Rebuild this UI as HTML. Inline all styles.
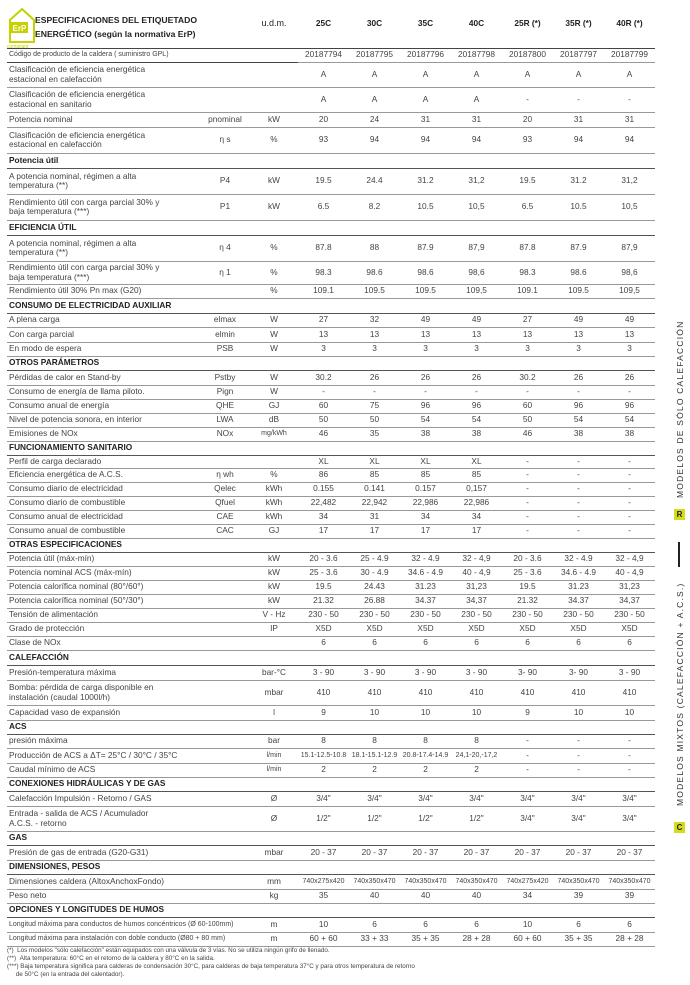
<!DOCTYPE html>
<html><head><meta charset="utf-8"><style>
body{margin:0;width:690px;height:985px;background:#fff;font-family:"Liberation Sans",sans-serif;color:#444;position:relative;overflow:hidden}
table{position:absolute;left:7px;top:0;border-collapse:collapse;table-layout:fixed;width:648px}
td{font-size:8.3px;line-height:9.5px;padding:0 0 0 2px;border-bottom:1.3px solid #999;vertical-align:middle;overflow:hidden;white-space:nowrap}
td.l{white-space:normal;padding-right:30px}
td.c{text-align:center;padding:0}
tr.s td{font-weight:bold;color:#222;border-bottom:1.3px solid #555}
tr.hd td{border-bottom:1.5px solid #444;font-weight:bold;color:#222}
.sm{font-size:7px}
.vt{position:absolute;transform:rotate(-90deg);transform-origin:left top;font-size:8.5px;letter-spacing:1.2px;color:#333;white-space:nowrap}
.box{position:absolute;width:11px;height:11px;background:#d4dc1c;font-size:8px;font-weight:bold;color:#222;text-align:center;line-height:11px}
</style></head><body>
<svg style="position:absolute;left:7px;top:6px" width="30" height="42"><path d="M3 14 L15 3 L27 14 L27 36 L3 36 Z" fill="none" stroke="#c5d200" stroke-width="2"/><rect x="4" y="16" width="17" height="11" fill="#c5d200"/><text x="5.5" y="25" font-size="8" font-family="Liberation Sans" fill="#fff" font-weight="bold">ErP</text><text x="0" y="42" font-size="5" font-family="Liberation Sans" fill="#c5d200">compliant</text></svg>
<table>
<colgroup><col style="width:193px"><col style="width:50px"><col style="width:48px"><col span="7" style="width:51px"></colgroup>
<tr class="hd" style="height:48px"><td colspan="2" style="padding-left:28px;font-size:8.6px;line-height:14px;padding-top:6px;white-space:normal">ESPECIFICACIONES DEL ETIQUETADO<br>ENERGÉTICO (según la normativa ErP)</td><td class="c" style="font-weight:normal;font-size:9px">u.d.m.</td><td class="c">25C</td><td class="c">30C</td><td class="c">35C</td><td class="c">40C</td><td class="c">25R (*)</td><td class="c">35R (*)</td><td class="c">40R (*)</td></tr>
<tr style="height:14px"><td colspan="3" class="sm" style="border-bottom-color:#444">Código de producto de la caldera ( suministro GPL)</td><td class="c">20187794</td><td class="c">20187795</td><td class="c">20187796</td><td class="c">20187798</td><td class="c">20187800</td><td class="c">20187797</td><td class="c">20187799</td></tr>
<tr style="height:25px"><td class="l">Clasificación de eficiencia energética estacional en calefacción</td><td></td><td></td><td class="c">A</td><td class="c">A</td><td class="c">A</td><td class="c">A</td><td class="c">A</td><td class="c">A</td><td class="c">A</td></tr>
<tr style="height:25px"><td class="l">Clasificación de eficiencia energética estacional en sanitario</td><td></td><td></td><td class="c">A</td><td class="c">A</td><td class="c">A</td><td class="c">A</td><td class="c">-</td><td class="c">-</td><td class="c">-</td></tr>
<tr style="height:15px"><td>Potencia nominal</td><td class="c">pnominal</td><td class="c">kW</td><td class="c">20</td><td class="c">24</td><td class="c">31</td><td class="c">31</td><td class="c">20</td><td class="c">31</td><td class="c">31</td></tr>
<tr style="height:26px"><td class="l">Clasificación de eficiencia energética estacional en calefacción</td><td class="c">η s</td><td class="c">%</td><td class="c">93</td><td class="c">94</td><td class="c">94</td><td class="c">94</td><td class="c">93</td><td class="c">94</td><td class="c">94</td></tr>
<tr class="s" style="height:15px"><td colspan="10">Potencia útil</td></tr>
<tr style="height:26px"><td class="l">A potencia nominal, régimen a alta temperatura (**)</td><td class="c">P4</td><td class="c">kW</td><td class="c">19.5</td><td class="c">24.4</td><td class="c">31.2</td><td class="c">31,2</td><td class="c">19.5</td><td class="c">31.2</td><td class="c">31,2</td></tr>
<tr style="height:26px"><td class="l">Rendimiento útil con carga parcial 30% y baja temperatura (***)</td><td class="c">P1</td><td class="c">kW</td><td class="c">6.5</td><td class="c">8.2</td><td class="c">10.5</td><td class="c">10,5</td><td class="c">6.5</td><td class="c">10.5</td><td class="c">10,5</td></tr>
<tr class="s" style="height:15px"><td colspan="10">EFICIENCIA ÚTIL</td></tr>
<tr style="height:26px"><td class="l">A potencia nominal, régimen a alta temperatura (**)</td><td class="c">η 4</td><td class="c">%</td><td class="c">87.8</td><td class="c">88</td><td class="c">87.9</td><td class="c">87,9</td><td class="c">87.8</td><td class="c">87.9</td><td class="c">87,9</td></tr>
<tr style="height:23px"><td class="l">Rendimiento útil con carga parcial 30% y baja temperatura (***)</td><td class="c">η 1</td><td class="c">%</td><td class="c">98.3</td><td class="c">98.6</td><td class="c">98.6</td><td class="c">98,6</td><td class="c">98.3</td><td class="c">98.6</td><td class="c">98,6</td></tr>
<tr style="height:14px"><td colspan="2">Rendimiento útil 30% Pn max (G20)</td><td class="c">%</td><td class="c">109.1</td><td class="c">109.5</td><td class="c">109.5</td><td class="c">109,5</td><td class="c">109.1</td><td class="c">109.5</td><td class="c">109,5</td></tr>
<tr class="s" style="height:15px"><td colspan="10">CONSUMO DE ELECTRICIDAD AUXILIAR</td></tr>
<tr style="height:14px"><td>A plena carga</td><td class="c">elmax</td><td class="c">W</td><td class="c">27</td><td class="c">32</td><td class="c">49</td><td class="c">49</td><td class="c">27</td><td class="c">49</td><td class="c">49</td></tr>
<tr style="height:15px"><td>Con carga parcial</td><td class="c">elmin</td><td class="c">W</td><td class="c">13</td><td class="c">13</td><td class="c">13</td><td class="c">13</td><td class="c">13</td><td class="c">13</td><td class="c">13</td></tr>
<tr style="height:14px"><td>En modo de espera</td><td class="c">PSB</td><td class="c">W</td><td class="c">3</td><td class="c">3</td><td class="c">3</td><td class="c">3</td><td class="c">3</td><td class="c">3</td><td class="c">3</td></tr>
<tr class="s" style="height:14px"><td colspan="10">OTROS PARÁMETROS</td></tr>
<tr style="height:15px"><td>Pérdidas de calor en Stand-by</td><td class="c">Pstby</td><td class="c">W</td><td class="c">30.2</td><td class="c">26</td><td class="c">26</td><td class="c">26</td><td class="c">30.2</td><td class="c">26</td><td class="c">26</td></tr>
<tr style="height:14px"><td>Consumo de energía de llama piloto.</td><td class="c">Pign</td><td class="c">W</td><td class="c">-</td><td class="c">-</td><td class="c">-</td><td class="c">-</td><td class="c">-</td><td class="c">-</td><td class="c">-</td></tr>
<tr style="height:14px"><td>Consumo anual de energía</td><td class="c">QHE</td><td class="c">GJ</td><td class="c">60</td><td class="c">75</td><td class="c">96</td><td class="c">96</td><td class="c">60</td><td class="c">96</td><td class="c">96</td></tr>
<tr style="height:14px"><td>Nivel de potencia sonora, en interior</td><td class="c">LWA</td><td class="c">dB</td><td class="c">50</td><td class="c">50</td><td class="c">54</td><td class="c">54</td><td class="c">50</td><td class="c">54</td><td class="c">54</td></tr>
<tr style="height:14px"><td>Emisiones de NOx</td><td class="c">NOx</td><td class="c sm">mg/kWh</td><td class="c">46</td><td class="c">35</td><td class="c">38</td><td class="c">38</td><td class="c">46</td><td class="c">38</td><td class="c">38</td></tr>
<tr class="s" style="height:14px"><td colspan="10">FUNCIONAMIENTO SANITARIO</td></tr>
<tr style="height:13px"><td>Perfil de carga declarado</td><td></td><td></td><td class="c">XL</td><td class="c">XL</td><td class="c">XL</td><td class="c">XL</td><td class="c">-</td><td class="c">-</td><td class="c">-</td></tr>
<tr style="height:14px"><td>Eficiencia energética de A.C.S.</td><td class="c">η wh</td><td class="c">%</td><td class="c">86</td><td class="c">85</td><td class="c">85</td><td class="c">85</td><td class="c">-</td><td class="c">-</td><td class="c">-</td></tr>
<tr style="height:14px"><td>Consumo diario de electricidad</td><td class="c">Qelec</td><td class="c">kWh</td><td class="c">0.155</td><td class="c">0.141</td><td class="c">0.157</td><td class="c">0,157</td><td class="c">-</td><td class="c">-</td><td class="c">-</td></tr>
<tr style="height:14px"><td>Consumo diario de combustible</td><td class="c">Qfuel</td><td class="c">kWh</td><td class="c">22,482</td><td class="c">22,942</td><td class="c">22,986</td><td class="c">22,986</td><td class="c">-</td><td class="c">-</td><td class="c">-</td></tr>
<tr style="height:14px"><td>Consumo anual de electricidad</td><td class="c">CAE</td><td class="c">kWh</td><td class="c">34</td><td class="c">31</td><td class="c">34</td><td class="c">34</td><td class="c">-</td><td class="c">-</td><td class="c">-</td></tr>
<tr style="height:14px"><td>Consumo anual de combustible</td><td class="c">CAC</td><td class="c">GJ</td><td class="c">17</td><td class="c">17</td><td class="c">17</td><td class="c">17</td><td class="c">-</td><td class="c">-</td><td class="c">-</td></tr>
<tr class="s" style="height:14px"><td colspan="10">OTRAS ESPECIFICACIONES</td></tr>
<tr style="height:14px"><td colspan="2">Potencia útil (máx-mín)</td><td class="c">kW</td><td class="c">20 - 3.6</td><td class="c">25 - 4.9</td><td class="c">32 - 4.9</td><td class="c">32 - 4,9</td><td class="c">20 - 3.6</td><td class="c">32 - 4.9</td><td class="c">32 - 4,9</td></tr>
<tr style="height:14px"><td colspan="2">Potencia nominal ACS (máx-mín)</td><td class="c">kW</td><td class="c">25 - 3.6</td><td class="c">30 - 4.9</td><td class="c">34.6 - 4.9</td><td class="c">40 - 4,9</td><td class="c">25 - 3.6</td><td class="c">34.6 - 4.9</td><td class="c">40 - 4,9</td></tr>
<tr style="height:14px"><td colspan="2">Potencia calorífica nominal (80°/60°)</td><td class="c">kW</td><td class="c">19.5</td><td class="c">24.43</td><td class="c">31.23</td><td class="c">31,23</td><td class="c">19.5</td><td class="c">31.23</td><td class="c">31,23</td></tr>
<tr style="height:14px"><td colspan="2">Potencia calorífica nominal (50°/30°)</td><td class="c">kW</td><td class="c">21.32</td><td class="c">26.88</td><td class="c">34.37</td><td class="c">34,37</td><td class="c">21.32</td><td class="c">34.37</td><td class="c">34,37</td></tr>
<tr style="height:14px"><td colspan="2">Tensión de alimentación</td><td class="c">V - Hz</td><td class="c">230 - 50</td><td class="c">230 - 50</td><td class="c">230 - 50</td><td class="c">230 - 50</td><td class="c">230 - 50</td><td class="c">230 - 50</td><td class="c">230 - 50</td></tr>
<tr style="height:14px"><td colspan="2">Grado de protección</td><td class="c">IP</td><td class="c">X5D</td><td class="c">X5D</td><td class="c">X5D</td><td class="c">X5D</td><td class="c">X5D</td><td class="c">X5D</td><td class="c">X5D</td></tr>
<tr style="height:14px"><td colspan="2">Clase de NOx</td><td></td><td class="c">6</td><td class="c">6</td><td class="c">6</td><td class="c">6</td><td class="c">6</td><td class="c">6</td><td class="c">6</td></tr>
<tr class="s" style="height:15px"><td colspan="10">CALEFACCIÓN</td></tr>
<tr style="height:15px"><td colspan="2">Presión-temperatura máxima</td><td class="c">bar-°C</td><td class="c">3 - 90</td><td class="c">3 - 90</td><td class="c">3 - 90</td><td class="c">3 - 90</td><td class="c">3- 90</td><td class="c">3- 90</td><td class="c">3 - 90</td></tr>
<tr style="height:25px"><td class="l" style="padding-right:20px">Bomba: pérdida de carga disponible en instalación (caudal 1000l/h)</td><td></td><td class="c">mbar</td><td class="c">410</td><td class="c">410</td><td class="c">410</td><td class="c">410</td><td class="c">410</td><td class="c">410</td><td class="c">410</td></tr>
<tr style="height:15px"><td colspan="2">Capacidad vaso de expansión</td><td class="c">l</td><td class="c">9</td><td class="c">10</td><td class="c">10</td><td class="c">10</td><td class="c">9</td><td class="c">10</td><td class="c">10</td></tr>
<tr class="s" style="height:14px"><td colspan="10">ACS</td></tr>
<tr style="height:14px"><td colspan="2">presión máxima</td><td class="c">bar</td><td class="c">8</td><td class="c">8</td><td class="c">8</td><td class="c">8</td><td class="c">-</td><td class="c">-</td><td class="c">-</td></tr>
<tr style="height:15px"><td colspan="2">Producción de ACS a ΔT= 25°C / 30°C / 35°C</td><td class="c sm">l/min</td><td class="c sm">15.1-12.5-10.8</td><td class="c sm">18.1-15.1-12.9</td><td class="c sm">20.8-17.4-14.9</td><td class="c sm">24,1-20,-17,2</td><td class="c">-</td><td class="c">-</td><td class="c">-</td></tr>
<tr style="height:14px"><td colspan="2">Caudal mínimo de ACS</td><td class="c sm">l/min</td><td class="c">2</td><td class="c">2</td><td class="c">2</td><td class="c">2</td><td class="c">-</td><td class="c">-</td><td class="c">-</td></tr>
<tr class="s" style="height:14px"><td colspan="10">CONEXIONES HIDRÁULICAS Y DE GAS</td></tr>
<tr style="height:15px"><td colspan="2">Calefacción Impulsión - Retorno / GAS</td><td class="c">Ø</td><td class="c">3/4"</td><td class="c">3/4"</td><td class="c">3/4"</td><td class="c">3/4"</td><td class="c">3/4"</td><td class="c">3/4"</td><td class="c">3/4"</td></tr>
<tr style="height:25px"><td class="l">Entrada - salida de ACS / Acumulador A.C.S. - retorno</td><td></td><td class="c">Ø</td><td class="c">1/2"</td><td class="c">1/2"</td><td class="c">1/2"</td><td class="c">1/2"</td><td class="c">3/4"</td><td class="c">3/4"</td><td class="c">3/4"</td></tr>
<tr class="s" style="height:14px"><td colspan="10">GAS</td></tr>
<tr style="height:15px"><td colspan="2">Presión de gas de entrada (G20-G31)</td><td class="c">mbar</td><td class="c">20 - 37</td><td class="c">20 - 37</td><td class="c">20 - 37</td><td class="c">20 - 37</td><td class="c">20 - 37</td><td class="c">20 - 37</td><td class="c">20 - 37</td></tr>
<tr class="s" style="height:14px"><td colspan="10">DIMENSIONES, PESOS</td></tr>
<tr style="height:15px"><td colspan="2">Dimensiones caldera (AltoxAnchoxFondo)</td><td class="c">mm</td><td class="c sm">740x275x420</td><td class="c sm">740x350x470</td><td class="c sm">740x350x470</td><td class="c sm">740x350x470</td><td class="c sm">740x275x420</td><td class="c sm">740x350x470</td><td class="c sm">740x350x470</td></tr>
<tr style="height:14px"><td colspan="2">Peso neto</td><td class="c">kg</td><td class="c">35</td><td class="c">40</td><td class="c">40</td><td class="c">40</td><td class="c">34</td><td class="c">39</td><td class="c">39</td></tr>
<tr class="s" style="height:14px"><td colspan="10">OPCIONES Y LONGITUDES DE HUMOS</td></tr>
<tr style="height:15px"><td colspan="2" class="sm">Longitud máxima para conductos de humos concéntricos (Ø 60-100mm)</td><td class="c">m</td><td class="c">10</td><td class="c">6</td><td class="c">6</td><td class="c">6</td><td class="c">10</td><td class="c">6</td><td class="c">6</td></tr>
<tr style="height:14px"><td colspan="2" class="sm">Longitud máxima para instalación con doble conducto (Ø80 + 80 mm)</td><td class="c">m</td><td class="c">60 + 60</td><td class="c">33 + 33</td><td class="c">35 + 35</td><td class="c">28 + 28</td><td class="c">60 + 60</td><td class="c">35 + 35</td><td class="c">28 + 28</td></tr>
</table>
<div style="position:absolute;left:7px;top:947px;font-size:6.3px;line-height:8px;color:#444;width:500px">(*) &nbsp;Los modelos "sólo calefacción" están equipados con una válvula de 3 vías. No se utiliza ningún grifo de llenado.<br>(**) &nbsp;Alta temperatura: 60°C en el retorno de la caldera y 80°C en la salida.<br>(***) Baja temperatura significa para calderas de condensación 30°C, para calderas de baja temperatura 37°C y para otros temperatura de retorno<br>&nbsp;&nbsp;&nbsp;&nbsp;&nbsp;de 50°C (en la entrada del calentador).</div>
<div class="vt" style="left:675px;top:498px">MODELOS DE SÓLO CALEFACCIÓN</div>
<div class="box" style="left:674px;top:509px">R</div>
<div style="position:absolute;left:678px;top:542px;width:1.5px;height:25px;background:#222"></div>
<div class="vt" style="left:675px;top:806px">MODELOS MIXTOS (CALEFACCIÓN + A.C.S.)</div>
<div class="box" style="left:674px;top:822px">C</div>
</body></html>
